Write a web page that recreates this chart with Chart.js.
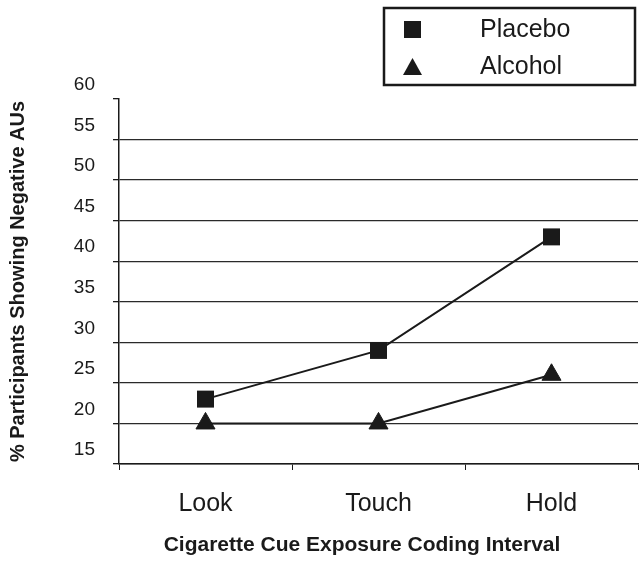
<!DOCTYPE html>
<html>
<head>
<meta charset="utf-8">
<script src="https://cdn.jsdelivr.net/npm/chart.js@4/dist/chart.umd.min.js"></script>
<style>
  html, body { margin: 0; padding: 0; background: #fff; overflow: hidden; }
  canvas { display: block; }
</style>
</head>
<body>
<canvas id="cueChart" width="639" height="561"></canvas>
<script>
// ====== data ======
const intervals = ["Look", "Touch", "Hold"];
const placeboValues = [23, 29, 43];
const alcoholValues = [20, 20, 26];
const seriesNames = ["Placebo", "Alcohol"];
const yMin = 15;
const yMax = 60;
const yStep = 5;

const FONT = '"Liberation Sans", Arial, Helvetica, sans-serif';
const INK = "#1a1a1a";

// legend box + x axis title drawn by hand (positions match the scanned figure)
const figureExtras = {
  id: "figureExtras",
  afterDraw(chart) {
    const ctx = chart.ctx;
    ctx.save();

    // legend frame
    ctx.lineWidth = 2.5;
    ctx.strokeStyle = INK;
    ctx.strokeRect(384, 8, 251, 77);

    // square marker
    ctx.fillStyle = INK;
    ctx.fillRect(404, 21, 17, 17);
    // triangle marker
    ctx.beginPath();
    ctx.moveTo(412.5, 58);
    ctx.lineTo(422, 75);
    ctx.lineTo(403, 75);
    ctx.closePath();
    ctx.fill();

    ctx.font = "25px " + FONT;
    ctx.textBaseline = "middle";
    ctx.textAlign = "left";
    ctx.fillText(seriesNames[0], 480, 30);
    ctx.fillText(seriesNames[1], 480, 67);

    // x axis title
    ctx.font = "bold 21px " + FONT;
    ctx.textAlign = "center";
    ctx.fillText("Cigarette Cue Exposure Coding Interval", 362, 545);

    ctx.restore();
  }
};

const ctx = document.getElementById("cueChart").getContext("2d");

new Chart(ctx, {
  type: "line",
  data: {
    labels: intervals,
    datasets: [
      {
        label: seriesNames[0],
        data: placeboValues,
        borderColor: INK,
        borderWidth: 2,
        backgroundColor: INK,
        pointStyle: "rect",
        pointRadius: 12,
        pointBackgroundColor: INK,
        pointBorderColor: INK,
        pointBorderWidth: 0,
        tension: 0,
        fill: false
      },
      {
        label: seriesNames[1],
        data: alcoholValues,
        borderColor: INK,
        borderWidth: 2,
        backgroundColor: INK,
        pointStyle: "triangle",
        pointRadius: 11,
        pointBackgroundColor: INK,
        pointBorderColor: INK,
        pointBorderWidth: 1,
        tension: 0,
        fill: false
      }
    ]
  },
  options: {
    responsive: false,
    animation: false,
    layout: { autoPadding: false, padding: { top: 99, right: 1, left: 0, bottom: 0 } },
    plugins: {
      legend: { display: false },
      tooltip: { enabled: false },
      title: { display: false }
    },
    scales: {
      x: {
        offset: true,
        afterFit(scale) {
          scale.height = 97;
          scale.paddingLeft = 0;
          scale.paddingRight = 0;
        },
        grid: {
          offset: true,
          drawOnChartArea: false,
          drawTicks: true,
          tickLength: 6,
          tickColor: INK
        },
        border: { display: true, color: INK, width: 1.5 },
        ticks: {
          color: INK,
          font: { family: FONT, size: 25 },
          padding: 19
        }
      },
      y: {
        min: yMin,
        max: yMax,
        afterFit(scale) {
          scale.width = 119;
          scale.paddingTop = 0;
          scale.paddingBottom = 0;
        },
        grid: {
          color: c => (c.tick && c.tick.value === yMax) ? "rgba(0,0,0,0)" : "#2a2a2a",
          lineWidth: 1.3,
          tickLength: 6,
          tickColor: INK
        },
        border: { display: true, color: INK, width: 1.5 },
        ticks: {
          stepSize: yStep,
          color: INK,
          font: { family: FONT, size: 19 },
          padding: 18,
          labelOffset: -14
        },
        title: {
          display: true,
          text: "% Participants Showing Negative AUs",
          color: INK,
          font: { family: FONT, size: 20, weight: "bold" },
          padding: { top: 6, bottom: 0 }
        }
      }
    }
  },
  plugins: [figureExtras]
});
</script>
</body>
</html>
